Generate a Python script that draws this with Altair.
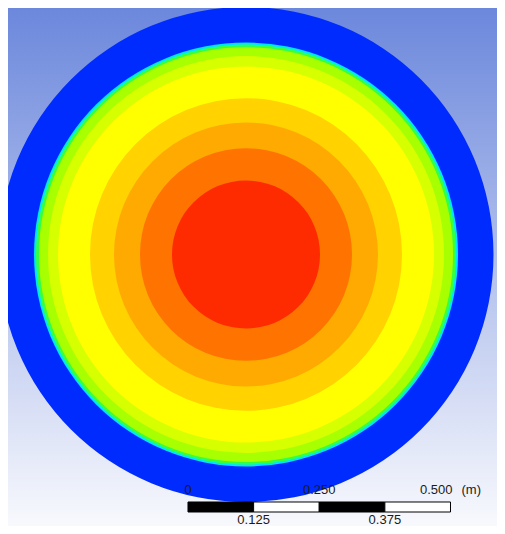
import altair as alt
import pandas as pd

# Contour bands: outer radius (m) and colour, outermost first
band_radius = [0.4714, 0.4038, 0.4000, 0.3943, 0.3771, 0.3581, 0.2971, 0.2514, 0.2019, 0.1410]
band_color = ["#002bff", "#00e5ff", "#33ff44", "#a8ff00", "#d6ff00", "#ffff00",
              "#ffd200", "#ffaa00", "#ff7400", "#ff2b00"]

# Scale bar
bar_start = [0.0, 0.125, 0.25, 0.375]
bar_fill = ["#000000", "#ffffff", "#000000", "#ffffff"]
top_labels = ["0", "0.250", "0.500"]
top_pos = [0.0, 0.25, 0.5]
bottom_labels = ["0.125", "0.375"]
bottom_pos = [0.125, 0.375]
unit_label = "(m)"

W, H = 489, 518
PX_PER_M = 525.0
CX, CY = 238.0, 246.5  # circle centre in chart pixels

xdom = [-CX / PX_PER_M, (W - CX) / PX_PER_M]
ydom = [-(H - CY) / PX_PER_M, CY / PX_PER_M]
xs = alt.Scale(domain=xdom, nice=False, zero=False)
ys = alt.Scale(domain=ydom, nice=False, zero=False)

BAR_X0 = -0.1105
BAR_Y_TOP = -0.4714
BAR_Y_BOT = -0.4905
TOP_LABEL_Y = -0.4490
BOT_LABEL_Y = -0.5060

bg = alt.Chart(alt.Data(values=[{}])).mark_rect(
    color=alt.Gradient(
        gradient="linear",
        stops=[alt.GradientStop(offset=0, color="#6c88dc"),
               alt.GradientStop(offset=1, color="#f8f9fd")],
        x1=0, x2=0, y1=0, y2=1,
    )
).encode(x=alt.value(0), x2=alt.value(W), y=alt.value(0), y2=alt.value(H))

bands = pd.DataFrame({"r": band_radius, "color": band_color, "cx": 0.0, "cy": 0.0})
discs = alt.Chart(bands).mark_point(filled=True, opacity=1, strokeWidth=0, shape="circle").encode(
    x=alt.X("cx:Q", scale=xs, axis=None),
    y=alt.Y("cy:Q", scale=ys, axis=None),
    size=alt.Size("r:Q", scale=alt.Scale(type="pow", exponent=2, domain=[0, 1],
                                         range=[0, 4 * PX_PER_M ** 2]), legend=None),
    color=alt.Color("color:N", scale=None),
    order=alt.Order("r:Q", sort="descending"),
)

bar = pd.DataFrame({
    "x0": [BAR_X0 + s for s in bar_start],
    "x1": [BAR_X0 + s + 0.125 for s in bar_start],
    "y0": BAR_Y_TOP, "y1": BAR_Y_BOT, "fill": bar_fill,
})
bar_layer = alt.Chart(bar).mark_rect(stroke="#000000", strokeWidth=1).encode(
    x=alt.X("x0:Q", scale=xs, axis=None), x2="x1:Q",
    y=alt.Y("y0:Q", scale=ys, axis=None), y2="y1:Q",
    color=alt.Color("fill:N", scale=None),
)

tl = pd.DataFrame({"x": [BAR_X0 + p for p in top_pos], "y": TOP_LABEL_Y, "t": top_labels,
                   "a": ["center", "center", "right"]})
font = dict(font="Liberation Sans", fontSize=13, color="#1a1a1a", baseline="middle")
top_c = alt.Chart(tl[tl.a == "center"]).mark_text(align="center", **font).encode(
    x=alt.X("x:Q", scale=xs, axis=None), y=alt.Y("y:Q", scale=ys, axis=None), text="t:N")
top_r = alt.Chart(tl[tl.a == "right"]).mark_text(align="right", dx=2, **font).encode(
    x=alt.X("x:Q", scale=xs, axis=None), y=alt.Y("y:Q", scale=ys, axis=None), text="t:N")
unit = alt.Chart(pd.DataFrame({"x": [BAR_X0 + 0.5], "y": [TOP_LABEL_Y], "t": [unit_label]})).mark_text(
    align="left", dx=11, **font).encode(
    x=alt.X("x:Q", scale=xs, axis=None), y=alt.Y("y:Q", scale=ys, axis=None), text="t:N")
bl = pd.DataFrame({"x": [BAR_X0 + p for p in bottom_pos], "y": BOT_LABEL_Y, "t": bottom_labels})
bot = alt.Chart(bl).mark_text(align="center", **font).encode(
    x=alt.X("x:Q", scale=xs, axis=None), y=alt.Y("y:Q", scale=ys, axis=None), text="t:N")

chart = alt.layer(bg, discs, bar_layer, top_c, top_r, unit, bot).properties(
    width=W, height=H, padding=0, autosize=alt.AutoSizeParams(type="none"),
).configure_view(stroke=None)

chart.save("out.html", embed_options={"renderer": "svg", "actions": False})
